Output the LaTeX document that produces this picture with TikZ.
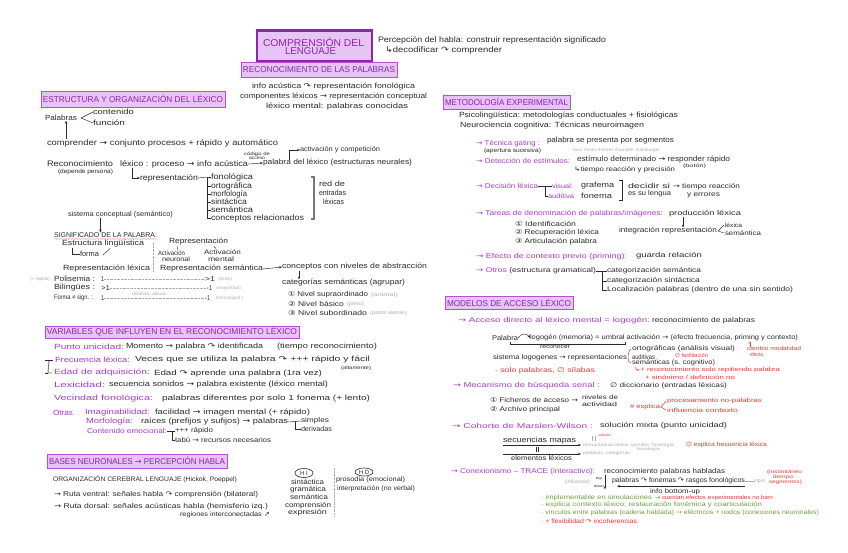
\documentclass[tikz,border=0pt]{standalone}
\usepackage{fontspec}
\usepackage{graphicx}
\setmainfont{Liberation Sans}
\newfontfamily\sym{DejaVu Sans}
\usetikzlibrary{arrows.meta,shapes.geometric,decorations.pathmorphing,calc}
\definecolor{ink}{HTML}{2A2A2A}
\definecolor{pur}{HTML}{A63CC6}
\definecolor{deep}{HTML}{8E24AA}
\definecolor{boxfill}{HTML}{E6C4F5}
\definecolor{boxline}{HTML}{B350D2}
\definecolor{redn}{HTML}{E53935}
\definecolor{grn}{HTML}{6E9F3C}
\definecolor{gry}{HTML}{ABABAB}
\newcommand{\ar}{{\sym →}}
\newcommand{\ca}{{\sym ↷}}
\newcommand{\nul}{{\sym ∅}}
% \tx[colour]{name}{x1}{x2}{y}{size}{text}: text stretched to run from x1 to x2
\newcommand{\tx}[7][ink]{%
  \pgfmathsetmacro{\mywd}{#4-#3}%
  \node[lab,text=#1] (#2) at (#3,#5) {\resizebox{\mywd pt}{\height}{\fontsize{#6}{#6}\selectfont #7}};}
% \bx{name}{x1}{y1}{x2}{y2}{text}: heading box
\newcommand{\bx}[6]{%
  \pgfmathsetmacro{\mywd}{#4-#2}\pgfmathsetmacro{\myhd}{#5-#3}\pgfmathsetmacro{\mytw}{#4-#2-4}%
  \node[headbox,minimum width=\mywd pt,minimum height=\myhd pt] (#1) at ({(#2+#4)/2},{(#3+#5)/2})
    {\resizebox{\mytw pt}{\height}{\fontsize{8.5}{8.5}\selectfont #6}};}
\tikzset{
  lab/.style={anchor=west,inner sep=0pt,outer sep=0pt},
  headbox/.style={draw=boxline,fill=boxfill,line width=0.9pt,text=deep,inner sep=0pt},
  conn/.style={draw=ink,line width=0.45pt},
  arr/.style={conn,-{Stealth[length=3pt,width=2.4pt]}},
  grayline/.style={draw=gry,line width=0.5pt},
  dots/.style={draw=gry,line width=0.4pt,densely dotted},
  redline/.style={draw=redn,line width=0.5pt},
}
\begin{document}
\begin{tikzpicture}[x=1pt,y=-1pt]
\useasboundingbox (0,0) rectangle (848,553);
% ---------- title
\node[draw=deep,fill=boxfill,line width=2.4pt,minimum width=115pt,minimum height=31pt,inner sep=0pt] (title) at (314.5,46) {};
\tx[deep]{tit1}{263}{364}{42}{10}{COMPRENSIÓN DEL}
\tx[deep]{tit2}{285}{336}{51.5}{10}{LENGUAJE}
\bx{recon}{241}{62}{397}{77}{RECONOCIMIENTO DE LAS PALABRAS}
\tx{perc}{378}{606}{40}{8}{Percepción del habla: construir representación significado}
\tx{deco}{385}{502}{50}{8}{{\sym ↳}decodificar \ca{} comprender}
\tx{ia}{252}{415}{87}{7.5}{info acústica \ca{} representación fonológica}
\tx{cl}{240}{427}{97}{7.5}{componentes léxicos \ar{} representación conceptual}
\tx{lm}{266}{408}{107}{7.5}{léxico mental: palabras conocidas}
% ---------- estructura
\bx{estr}{41}{91}{225}{107}{ESTRUCTURA Y ORGANIZACIÓN DEL LÉXICO}
\tx{pal}{45}{77}{118}{7.5}{Palabras}
\tx{cont}{93}{134}{112}{7.5}{contenido}
\tx{func}{93}{125}{123}{7.5}{función}
\draw[conn] ([xshift=4pt]pal.east) -- (cont.west);
\draw[conn] ([xshift=4pt]pal.east) -- (func.west);
\tx{compr}{47}{278}{143}{8}{comprender \ar{} conjunto procesos + rápido y automático}
\coordinate (cp1) at ([xshift=19pt]compr.north west);
\draw[arr] (cp1) -- (cp1 |- pal.south);
\tx{reco}{47}{113}{164}{8}{Reconocimiento}
\tx{dep}{58}{113}{172}{6}{(depende persona)}
\tx{lex}{120}{248}{164}{8}{léxico : proceso \ar{} info acústica}
\tx{cod}{244}{270}{154}{4.5}{código de}
\tx{acc}{249}{265}{158.5}{4.5}{acceso}
\tx{plx}{263}{412}{163}{7.5}{palabra del léxico (estructuras neurales)}
\draw[arr] (lex.east) -- (plx.west);
\tx{act}{300}{380}{150}{6.8}{activación y competición}
\coordinate (c1) at (289,160);
\draw[arr] (c1) |- (act.west);
\tx{rep}{140}{198}{178}{8}{representación}
\coordinate (c2) at ([xshift=12pt]lex.south west);
\draw[arr] (c2) |- (rep.west);
\tx{fon}{211}{253}{177}{8}{fonológica}
\tx{ort}{211}{252}{186}{8}{ortográfica}
\tx{mor}{211}{247}{194}{8}{morfología}
\tx{sin}{211}{247}{202}{8}{sintáctica}
\tx{sem}{211}{253}{210}{8}{semántica}
\tx{con}{211}{304}{218}{8}{conceptos relacionados}
\draw[conn] (rep.east) -- ([xshift=-4pt]fon.west);
\draw[conn] ([xshift=-4pt]fon.west) -- ([xshift=-4pt]con.west);
\foreach \n in {fon,ort,mor,sin,sem,con} \draw[conn] ([xshift=-4pt]\n.west) -- (\n.west);
\draw[draw=gry!70!black,line width=1.1pt] (fon.west -| con.east) ++(7,0) -- ++(3,0) |- ($(con.east)+(7,1)$);
\tx{red1}{319}{345}{184}{7.5}{red de}
\tx{red2}{319}{346}{193}{7.5}{entradas}
\tx{red3}{323}{344}{202}{7.5}{léxicas}
\tx{sc}{68}{173}{215}{7}{sistema conceptual (semántico)}
\tx{sig}{54}{157}{235}{7}{SIGNIFICADO DE LA PALABRA:}
\coordinate (s1) at ([xshift=-5pt]sig.north);
\draw[arr] (s1 |- sc.south) -- (s1);
\draw[draw=pink!80!magenta,line width=0.5pt,decorate,decoration={snake,amplitude=0.5pt,segment length=3pt}] ([yshift=-1.5pt]sig.south west) -- ([yshift=-1.5pt]sig.south east);
\tx{estl}{62}{144}{244}{7.5}{Estructura lingüística}
\tx{forma}{80}{99}{254}{7.5}{forma}
\coordinate (e1) at ([xshift=10pt]estl.south west);
\draw[conn] (e1) |- (forma.west);
\coordinate (e2) at ([xshift=48pt,yshift=-1pt]estl.south west);
\draw[conn] ([xshift=4pt,yshift=-1pt]forma.east) -- (e2);
\draw[dots] (153,243) -- (153,272);
\tx{repr}{169}{228}{242}{7.5}{Representación}
\tx{an1}{158}{185}{253}{6.5}{Activación}
\tx{an2}{162}{190}{259.5}{6.5}{neuronal}
\tx{am1}{204}{241}{252}{6.5}{Activación}
\tx{am2}{208}{234}{259}{6.5}{mental}
\draw[conn] ([xshift=8pt,yshift=-1pt]repr.south west) -- ([xshift=20pt,yshift=1pt]an1.north west);
\draw[conn] ([xshift=-14pt,yshift=-1pt]repr.south east) -- ([xshift=12pt,yshift=1pt]am1.north west);
\tx{rl}{63}{150}{269}{7.5}{Representación léxica}
\tx{rs}{160}{263}{269}{7.5}{Representación semántica}
\tx{cpt}{282}{427}{267}{7.5}{conceptos con niveles de abstracción}
\draw[arr] (rs.east) -- (cpt.west);
\tx{cat}{282}{405}{283}{7.5}{categorías semánticas (agrupar)}
\coordinate (c3) at ([xshift=17pt]cpt.south west);
\draw[arr] (c3) -- (c3 |- cat.north);
\tx{n1}{288}{368}{295}{7}{{\sym ①} Nivel supraordinado}
\tx[gry]{n1b}{371}{398}{295}{5}{(animal)}
\tx{n2}{288}{344}{304}{7}{{\sym ②} Nivel básico}
\tx[gry]{n2b}{347}{364}{304}{5}{(perro)}
\tx{n3}{288}{367}{313}{7}{{\sym ③} Nivel subordinado}
\tx[gry]{n3b}{370}{407}{313}{5}{(pastor alemán)}
\tx[gry]{pre}{30}{50}{279}{4.5}{(+ rápido)}
\tx{poli}{54}{95}{279}{7.5}{Polisemia :}
\tx{pa}{101}{104}{279}{7}{1}
\tx{pb}{205}{215}{279}{7}{>1}
\tx[gry]{pc}{218}{232}{279}{4.5}{(lento)}
\draw[dots,-{Stealth[length=2pt]}] (pa.east) -- (pb.west);
\tx{bil}{54}{95}{288}{7.5}{Bilingües :}
\tx{ba}{101}{110}{288}{7}{>1}
\tx{bb}{209}{212}{288}{7}{1}
\tx[gry]{bc}{216}{241}{288}{4.5}{(mayor/fácil)}
\draw[dots,-{Stealth[length=2pt]}] (ba.east) -- (bb.west);
\tx{fs}{54}{93}{298}{6.5}{Forma ≠ sign. :}
\tx{fa}{101}{104}{298}{7}{1}
\tx{fb}{207}{210}{298}{7}{1}
\tx[gry]{fc}{216}{243}{298}{4.5}{(forma/signif.)}
\tx[gry]{fd}{132}{170}{294.5}{4.5}{dislexia, alexia...}
\draw[dots,-{Stealth[length=2pt]}] (fa.east) -- (fb.west);
% ---------- variables
\bx{vars}{45}{326}{299}{338}{VARIABLES QUE INFLUYEN EN EL RECONOCIMIENTO LÉXICO}
\tx[pur]{pu}{54}{124}{347}{7.5}{Punto unicidad:}
\tx{pu2}{126}{263}{347}{7.5}{Momento \ar{} palabra \ca{} identificada}
\tx{pu3}{277}{377}{347}{7.5}{(tiempo reconocimiento)}
\tx[pur]{fl}{55}{130}{360}{7.5}{Frecuencia léxica:}
\tx{fl2}{135}{370}{360}{7.5}{Veces que se utiliza la palabra \ca{} +++ rápido y fácil}
\tx{fl3}{341}{371}{368}{4.8}{(altamente)}
\tx[pur]{ed}{54}{150}{373}{7.5}{Edad de adquisición:}
\tx{ed2}{154}{322}{374}{7.5}{Edad \ca{} aprende una palabra (1ra vez)}
\draw[grayline,draw=gry!70!black,line width=0.9pt] ([xshift=-6pt]fl.west) -- ([xshift=-6pt]ed.west) -- ([xshift=-2pt]ed.west);
\draw[conn] ([xshift=-10pt]fl.west) -- ([xshift=-2pt]fl.west);
\draw[conn] ([xshift=-9pt]ed.west) -- ([xshift=-6pt]ed.west);
\tx[pur]{lx}{54}{105}{385}{7.5}{Lexicidad:}
\tx{lx2}{109}{328}{385}{7.5}{secuencia sonidos \ar{} palabra existente (léxico mental)}
\tx[pur]{vf}{54}{153}{399}{7.5}{Vecindad fonológica:}
\tx{vf2}{162}{370}{399}{7.5}{palabras diferentes por solo 1 fonema (+ lento)}
\tx[pur]{ot}{53}{73}{413}{7.5}{Otras}
\tx[pur]{im}{85}{150}{413}{7.5}{Imaginabilidad:}
\tx{im2}{155}{310}{413}{7.5}{facilidad \ar{} imagen mental (+ rápido)}
\tx[pur]{mf}{86}{133}{422}{7.5}{Morfología:}
\tx{mf2}{141}{288}{422}{7.5}{raíces (prefijos y sufijos) \ar{} palabras}
\tx{simp}{301}{329}{421}{7}{simples}
\tx{deri}{301}{332}{429}{7}{derivadas}
\draw[conn] (mf2.east) -- (simp.west);
\coordinate (m1) at ([xshift=-6pt]simp.west);
\draw[conn] (m1) |- (deri.west);
\tx[pur]{ce}{87}{167}{431}{7}{Contenido emocional:}
\tx{cer}{175}{213}{431}{6.8}{+++ rápido}
\tx{tab}{175}{271}{440}{6.8}{tabú \ar{} recursos necesarios}
\draw[conn] (ce.east) -- (cer.west);
\coordinate (m2) at ([xshift=-3pt]cer.west);
\draw[conn] (m2) |- (tab.west);
% ---------- bases
\bx{bases}{47}{454}{227}{468}{BASES NEURONALES \ar{} PERCEPCIÓN HABLA}
\tx{org}{53}{237}{479}{6.5}{ORGANIZACIÓN CEREBRAL LENGUAJE (Hickok, Poeppel)}
\tx{rv}{54}{258}{495}{7}{\ar{} Ruta ventral: señales habla \ca{} comprensión (bilateral)}
\tx{rd}{54}{268}{507}{7}{\ar{} Ruta dorsal: señales acústicas habla (hemisferio izq.)}
\tx{rg}{180}{270}{515}{6.5}{regiones interconectadas {\sym ↗}}
\node[ellipse,draw=ink,line width=0.6pt,minimum width=18pt,minimum height=9pt,inner sep=0pt,text=ink,font=\fontsize{6}{6}\selectfont] (hi) at (304,473) {H I};
\node[ellipse,draw=ink,line width=0.6pt,minimum width=18pt,minimum height=8pt,inner sep=0pt,text=ink,font=\fontsize{6}{6}\selectfont] (hd) at (364,472) {H D};
\tx{h1}{291}{324}{482}{7}{sintáctica}
\tx{h2}{290}{326}{490}{7}{gramática}
\tx{h3}{290}{328}{497}{7}{semántica}
\tx{h4}{285}{331}{506}{7}{comprensión}
\tx{h5}{288}{327}{513}{7}{expresión}
\draw[dots] (334,468) -- (334,516);
\tx{d1}{336}{405}{480}{6.5}{prosodia (emocional)}
\tx{d2}{337}{415}{489}{6.5}{interpretación (no verbal)}
% ---------- metodologia
\bx{meto}{443}{95}{570}{109}{METODOLOGÍA EXPERIMENTAL}
\tx{psi}{459}{678}{116}{7.5}{Psicolingüística: metodologías conductuales + fisiológicas}
\tx{neu}{460}{644}{126}{7.5}{Neurociencia cognitiva: Técnicas neuroimagen}
\tx[pur]{tg}{476}{540}{144}{7}{\ar{} Técnica gating :}
\tx{tg2}{547}{674}{141}{7.5}{palabra se presenta por segmentos}
\tx{tg3}{484}{541}{151}{6}{(apertura sucesiva)}
\tx[gry]{tg4}{573}{660}{150}{4.5}{hour /heart /horses /hamster /hamburger}
\tx[pur]{de}{476}{570}{161}{7}{\ar{} Detección de estímulos:}
\tx{de2}{577}{730}{160}{7.5}{estímulo determinado \ar{} responder rápido}
\tx{de3}{683}{706}{166}{4.8}{(botón)}
\tx{de4}{574}{675}{170}{6.5}{{\sym ↳}tiempo reacción y precisión}
\tx[pur]{dl}{476}{538}{186}{7}{\ar{} Decisión léxica}
\tx[pur]{vis}{552}{573}{186}{6.5}{visual:}
\tx[pur]{aud}{548}{574}{196}{6.5}{auditiva}
\draw[conn] (dl.east) -- (vis.west);
\coordinate (dc) at ([xshift=-7pt]vis.west);
\draw[conn] (dc) |- (aud.west);
\tx{gra}{581}{614}{186}{7.5}{grafema}
\tx{fnm}{581}{612}{196}{7.5}{fonema}
\coordinate (bk1) at ([xshift=8pt,yshift=2pt]gra.north east);
\coordinate (bk2) at ([yshift=-2pt]bk1 |- fnm.south);
\draw[conn,line width=0.7pt] ([xshift=-3pt]bk1) -- (bk1) -- (bk2) -- ([xshift=-3pt]bk2);
\tx{dec1}{628}{670}{186}{7}{decidir si}
\tx{dec2}{628}{671}{194}{7}{es su lengua}
\tx{tr1}{673}{740}{187}{6.8}{\ar{} tiempo reacción}
\tx{tr2}{687}{720}{195}{6.8}{y errores}
\tx[pur]{ta}{476}{663}{214}{7}{\ar{} Tareas de denominación de palabras/imágenes:}
\tx{ta2}{669}{741}{214}{7}{producción léxica}
\tx{i1}{515}{576}{224}{7}{{\sym ①} Identificación}
\tx{i2}{515}{599}{233}{7}{{\sym ②} Recuperación léxica}
\tx{i3}{515}{597}{242}{7}{{\sym ③} Articulación palabra}
\tx{int}{619}{717}{231}{7.2}{integración representación}
\coordinate (ti) at ([xshift=14pt]ta2.south west);
\draw[arr] (ti) -- (ti |- int.north);
\tx{lxa}{725}{742}{225}{6}{léxica}
\tx{sma}{725}{761}{233}{6.5}{semántica}
\draw[conn] ([xshift=1pt]int.east) -- ([xshift=-1pt]lxa.west);
\draw[conn] ([xshift=1pt]int.east) -- ([xshift=-1pt]sma.west);
\tx[pur]{ef}{476}{627}{257}{7}{\ar{} Efecto de contexto previo (priming):}
\tx{ef2}{636}{702}{256}{7}{guarda relación}
\tx[pur]{ot2}{476}{596}{271}{6.8}{\ar{} Otros {\color{ink}(estructura gramatical)}}
\tx{c1n}{607}{701}{271}{6.8}{categorización semántica}
\tx{c2n}{607}{700}{281}{6.8}{categorización sintáctica}
\tx{c3n}{607}{793}{290}{6.8}{Localización palabras (dentro de una sin sentido)}
\draw[conn] (ot2.east) -- (c1n.west);
\coordinate (tr) at ([xshift=-5pt]c1n.west);
\draw[conn] (tr) |- (c3n.west);
\draw[conn] (tr |- c2n.west) -- (c2n.west);
% ---------- modelos
\bx{mod}{445}{296}{573}{309}{MODELOS DE ACCESO LÉXICO}
\tx[pur]{ac}{458}{650}{321}{7}{\ar{} Acceso directo al léxico mental = logogén:}
\tx{ac2}{652}{755}{321}{7}{reconocimiento de palabras}
\tx{pb1}{492}{518}{338}{7}{Palabra}
\tx{pb2}{530}{798}{338}{6.6}{logogén (memoria) = umbral activación \ar{} (efecto frecuencia, priming y contexto)}
\draw[arr] (pb1.east) .. controls ([xshift=3pt,yshift=5pt]pb1.east) and ([xshift=-3pt,yshift=5pt]pb2.west) .. (pb2.west);
\coordinate (rb1) at ([xshift=-8pt,yshift=-1pt]pb1.south east);
\coordinate (rb2) at ([xshift=95pt,yshift=-1pt]pb2.south west);
\draw[conn] (rb1) -- ++(0,3) -| (rb2);
\tx{rcn}{540}{570}{347}{5.5}{reconocer}
\tx{sl}{493}{627}{358}{6.8}{sistema logogenes \ar{} representaciones}
\tx{so}{632}{735}{349}{6.6}{ortográficas (análisis visual)}
\tx{sa}{632}{655}{357}{6.6}{auditivas}
\tx{ss}{632}{715}{363}{6.6}{semánticas (s. cognitivo)}
\draw[redline] ([xshift=-1pt]so.west) .. controls ([xshift=-3pt]so.west) and ([xshift=1pt,yshift=3pt]sl.east) .. ([xshift=1pt]sl.east);
\draw[redline] ([xshift=-1pt]ss.west) .. controls ([xshift=-3pt]ss.west) and ([xshift=1pt,yshift=-3pt]sl.east) .. ([xshift=1pt]sl.east);
\tx[redn]{rf}{675}{708}{356}{5.5}{\nul{} facilitación}
\tx[redn]{cm}{747}{801}{349}{5.5}{cambio modalidad}
\tx[redn]{cf}{750}{763}{355}{5.5}{afecta}
\coordinate (cm1) at ([xshift=3pt]cm.north west);
\draw[redline,-{Stealth[length=2.5pt]}] (cm1) -- (cm1 |- pb2.south);
\tx[redn]{sp}{495}{595}{371}{6.8}{- solo palabras, \nul{} sílabas}
\tx[redn]{rr}{634}{780}{370}{5.8}{{\sym ↳}+ reconocimiento solo repitiendo palabra}
\tx[redn]{rs2}{645}{735}{377}{5.8}{+ sinónimo / definición no}
\tx[pur]{me}{453}{600}{386}{7}{\ar{} Mecanismo de búsqueda serial :}
\tx{me2}{610}{727}{386}{6.5}{\nul{} diccionario (entradas léxicas)}
\tx{fi}{490}{578}{400}{6.8}{{\sym ①} Ficheros de acceso \ar}
\tx{nv1}{582}{618}{397}{6.2}{niveles de}
\tx{nv2}{582}{617}{404}{6.2}{actividad}
\tx{ap}{490}{560}{410}{6.8}{{\sym ②} Archivo principal}
\tx[redn]{ex}{630}{660}{407}{6}{\# explica}
\tx[redn]{pc2}{667}{762}{401}{6}{procesamiento no-palabras}
\tx[redn]{ifl}{667}{738}{410}{6}{influencia contexto}
\draw[redline] ([xshift=1pt]ex.east) -- ([xshift=-1pt]pc2.west);
\draw[redline] ([xshift=1pt]ex.east) -- ([xshift=-1pt]ifl.west);
% ---------- cohorte
\tx[pur]{co}{452}{593}{426}{7}{\ar{} Cohorte de Marslen-Wilson :}
\tx{co2}{600}{727}{426}{7}{solución mixta (punto unicidad)}
\tx{sec}{503}{576}{441}{7.5}{secuencias mapas}
\tx{ele}{511}{572}{458}{6.8}{elementos léxicos}
\tx[gry]{es1}{583}{674}{445}{4.5}{estructura acústica, sonidos, fonología}
\tx[gry]{es2}{637}{660}{449}{4}{fonología}
\tx[gry]{es3}{583}{630}{453}{4.5}{palabras, categorías}
\draw[arr,line width=0.7pt] ([yshift=-0.5pt]sec.south west) -- ([xshift=-2pt,yshift=-0.5pt]sec.south west -| es1.west);
\draw[arr,line width=0.7pt] ([xshift=-8pt,yshift=1.5pt]ele.north west) -- ([xshift=-2pt,yshift=1.5pt]ele.north west -| es3.west);
\draw[conn] (536.2,447) -- (536.2,451.5);
\draw[conn] (538.2,447) -- (538.2,451.5);
\draw[grayline,line width=0.4pt] (592,435.5) -- (592,441) (595,435.5) -- (595,441);
\tx[redn]{un}{598}{611}{435.5}{3.5}{unidades}
\tx[redn]{exf}{686}{767}{445}{6}{\nul{} explica frecuencia léxica}
% ---------- trace
\tx[pur]{tc}{451}{595}{472}{7}{\ar{} Conexionismo -- TRACE (interactivo):}
\tx{tc2}{604}{725}{472}{7}{reconocimiento palabras habladas}
\tx[gry]{tc3}{565}{590}{482}{5}{(influencia)}
\tx{td1}{596}{602}{479}{3.5}{top}
\tx{td2}{594}{604}{486}{3.5}{down}
\tx{tw}{612}{745}{481}{6.8}{palabras \ca{} fonemas \ca{} rasgos fonológicos}
\tx[gry]{inp}{754}{765}{481}{5}{input}
\draw[grayline] (inp.west) -- (tw.east);
\draw[arr] ([xshift=-7pt,yshift=3pt]tw.west |- td1.north) -- ([xshift=-7pt,yshift=-2pt]tw.west |- td2.south);
\coordinate (bu) at ([yshift=-2pt]tw.south east);
\draw[arr] (bu) -- ([xshift=5pt,yshift=-2pt]tw.south west);
\tx{ib}{650}{700}{492}{6.5}{info bottom-up}
\tx[redn]{in1}{767}{802}{472}{4.8}{(instantáneo}
\tx[redn]{in2}{773}{795}{477}{4.8}{tiempo:}
\tx[redn]{in3}{769}{802}{482}{4.8}{segmentos)}
\tx[grn]{g1}{541}{652}{498}{6.3}{· implementable en simulaciones}
\tx[redn]{g1b}{655}{773}{498}{5.6}{\ar{} cuestan efectos experimentales no bien}
\tx[grn]{g2}{541}{762}{504.5}{6.3}{· explica contexto léxico; restauración fonémica y coarticulación}
\tx[grn]{g3}{541}{819}{513}{6.3}{· vínculos entre palabras (cadena hablada) \ar{} eléctricos + nodos (conexiones neuronales)}
\tx[redn]{g4}{541}{637}{521}{6.3}{· + flexibilidad \ca{} incoherencias}
\end{tikzpicture}
\end{document}
